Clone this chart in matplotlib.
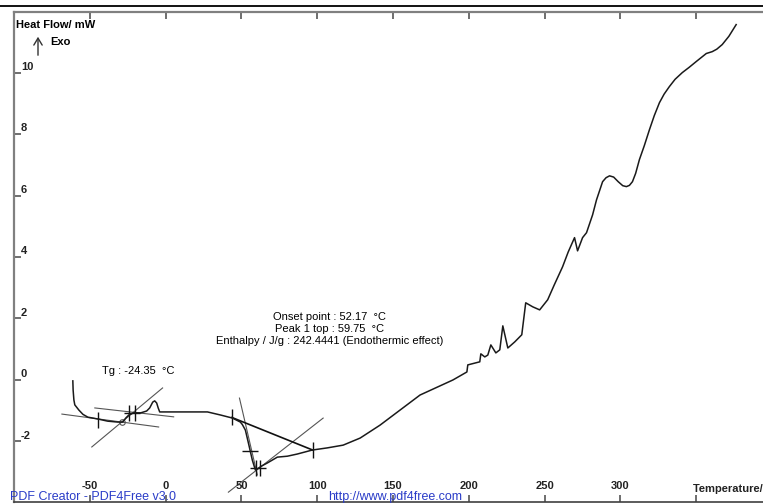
import matplotlib
matplotlib.use("agg")
import matplotlib.pyplot as plt
from matplotlib.lines import Line2D
from matplotlib.patches import FancyArrowPatch

plt.rcParams["font.family"] = ["Liberation Sans", "DejaVu Sans"]

# DSC curve (temperature in degC, heat flow in mW)
temp = [-61.2, -61.0, -60.5, -59.9, -57.2, -54.5, -51.3, -44.7, -38.2, -31.6,
        -28.3, -26.3, -24.3, -21.1, -16.4, -12.5, -10.5, -8.5, -7.2, -5.9,
        -4.9, -3.9, 1.3, 14.5, 27.6, 36.2, 44.1, 49.3, 50.6, 52.6,
        54.6, 57.2, 59.2, 61.2, 63.3, 67.1, 73.7, 80.3, 86.8, 96.7,
        106.6, 117.1, 128.3, 141.4, 154.6, 167.8, 189.5, 198.7, 199.3, 207.2,
        207.9, 210.5, 212.5, 214.5, 217.8, 220.4, 222.4, 225.7, 230.3, 234.9,
        237.5, 242.1, 246.7, 252.0, 256.3, 261.8, 265.5, 269.7, 271.7, 275.0,
        277.6, 281.6, 284.2, 288.2, 290.5, 292.8, 295.5, 298.5, 301.5, 303.9,
        305.9, 307.9, 310.0, 312.5, 315.7, 319.1, 322.3, 325.7, 328.8, 332.2,
        336.0, 340.8, 345.3, 350.0, 356.6, 360.5, 363.5, 367.1, 371.5, 376.3]
heat = [-0.03, -0.33, -0.65, -0.81, -0.98, -1.12, -1.21, -1.27, -1.34, -1.37,
        -1.37, -1.24, -1.14, -1.07, -1.07, -1.01, -0.91, -0.72, -0.68, -0.75,
        -0.91, -1.04, -1.04, -1.04, -1.04, -1.14, -1.24, -1.37, -1.45, -1.63,
        -2.05, -2.61, -2.93, -2.87, -2.80, -2.70, -2.51, -2.48, -2.41, -2.28,
        -2.21, -2.12, -1.89, -1.47, -0.98, -0.49, 0.0, 0.26, 0.49, 0.59,
        0.85, 0.75, 0.81, 1.14, 0.88, 0.98, 1.76, 1.04, 1.24, 1.47,
        2.51, 2.38, 2.28, 2.61, 3.09, 3.68, 4.16, 4.63, 4.20, 4.63,
        4.79, 5.37, 5.86, 6.45, 6.58, 6.64, 6.60, 6.45, 6.32, 6.29,
        6.33, 6.45, 6.72, 7.17, 7.62, 8.14, 8.60, 9.02, 9.30, 9.54,
        9.78, 10.0, 10.17, 10.36, 10.62, 10.68, 10.76, 10.91, 11.18, 11.56]

# construction lines of the Tg and peak evaluation: (T0, H0, T1, H1)
tg_lines = [(-68.4, -1.11, -4.6, -1.53),
            (-46.7, -0.91, 5.3, -1.20),
            (-48.7, -2.18, -2.0, -0.26)]
peak_tangents = [(48.7, -0.59, 60.5, -3.09),
                 (41.4, -3.65, 103.9, -1.24)]
peak_baseline = (43.7, -1.22, 97.0, -2.28)

tick_marks_t = [-44.7, -24.3, -20.3, 43.7, 59.4, 62.2, 97.0]
tick_marks_h = [-1.30, -1.07, -1.07, -1.22, -2.86, -2.86, -2.28]
cross_t = [-22.0, 55.4, 60.8]
cross_h = [-1.07, -2.31, -2.86]

x_ticks = [-50, 0, 50, 100, 150, 200, 250, 300, 350]
x_labels = ["-50", "0", "50", "100", "150", "200", "250", "300", ""]
y_ticks = [-2, 0, 2, 4, 6, 8, 10]

result_text = ("Onset point : 52.17  \u00b0C\n"
               "Peak 1 top : 59.75  \u00b0C\n"
               "Enthalpy / J/g : 242.4441 (Endothermic effect)")
tg_text = "Tg : -24.35  \u00b0C"

W, H = 763, 504
fig = plt.figure(figsize=(W / 100, H / 100), dpi=100)
ax = fig.add_axes([14 / W, 2 / H, (W - 14) / W, 490 / H])
ax.set_xlim(-100, 394)
ax.set_ylim(-3.97, 11.97)

for side in ("left", "top"):
    ax.spines[side].set_color("#808080")
    ax.spines[side].set_linewidth(1.6)
ax.spines["bottom"].set_color("#404040")
ax.spines["bottom"].set_linewidth(1.2)
ax.spines["right"].set_visible(False)

ax.set_xticks(x_ticks)
ax.set_yticks(y_ticks)
ax.tick_params(axis="both", direction="in", length=5, width=1.2,
               color="#555555", labelleft=False, labelbottom=False,
               top=True)

for t, lab in zip(x_ticks, x_labels):
    ax.annotate(lab, (t, 0), xycoords=("data", "axes fraction"),
                xytext=(0, 8), textcoords="offset points",
                ha="center", va="bottom", fontsize=8, fontweight="bold",
                color="#222222")
for v in y_ticks:
    ax.annotate(str(v), (0, v), xycoords=("axes fraction", "data"),
                xytext=(5, 0.5), textcoords="offset points",
                ha="left", va="bottom", fontsize=8, fontweight="bold",
                color="#222222")

# evaluation construction
for x0, y0, x1, y1 in tg_lines + peak_tangents:
    ax.plot([x0, x1], [y0, y1], color="#555555", lw=0.8)
ax.plot(peak_baseline[::2], peak_baseline[1::2], color="#111111", lw=1.2)
ax.plot(tick_marks_t, tick_marks_h, ls="none", marker="|", ms=11,
        mew=1.0, color="#111111")
ax.plot(cross_t, cross_h, ls="none", marker="_", ms=11, mew=1.0,
        color="#111111")
ax.plot([-28.5], [-1.37], ls="none", marker="o", ms=4, mfc="none",
        mec="#555555", mew=0.8)

ax.plot(temp, heat, color="#1a1a1a", lw=1.1)

ax.text(108, 1.66, result_text, ha="center", va="center", fontsize=8,
        linespacing=1.25, multialignment="center")
ax.text(-42.1, 0.29, tg_text, ha="left", va="center", fontsize=8)

# header labels and the Exo arrow
fig.text(16 / W, 1 - 25 / H, "Heat Flow/ mW", fontsize=8,
         fontweight="bold", va="center")
fig.text(50 / W, 1 - 42 / H, "Exo", fontsize=8, fontweight="bold",
         va="center")
fig.add_artist(FancyArrowPatch(
    (38 / W, 1 - 58 / H), (38 / W, 1 - 34 / H), transform=fig.transFigure,
    arrowstyle="->,head_length=5,head_width=3", color="#333333", lw=1.0))
fig.text(693 / W, 1 - 489 / H, "Temperature/ \u00b0C", fontsize=8,
         fontweight="bold", va="center", color="#222222")

# page border line and watermark
fig.add_artist(Line2D([0, 1], [1 - 6 / H] * 2, color="black", lw=1.3))
fig.text(10 / W, 1 - 497 / H, "PDF Creator - PDF4Free v3.0", fontsize=9,
         color="#2a3cc8", va="center")
fig.text(328 / W, 1 - 497 / H, "http://www.pdf4free.com", fontsize=9,
         color="#2a3cc8", va="center")

fig.savefig("out.png", dpi=100)
